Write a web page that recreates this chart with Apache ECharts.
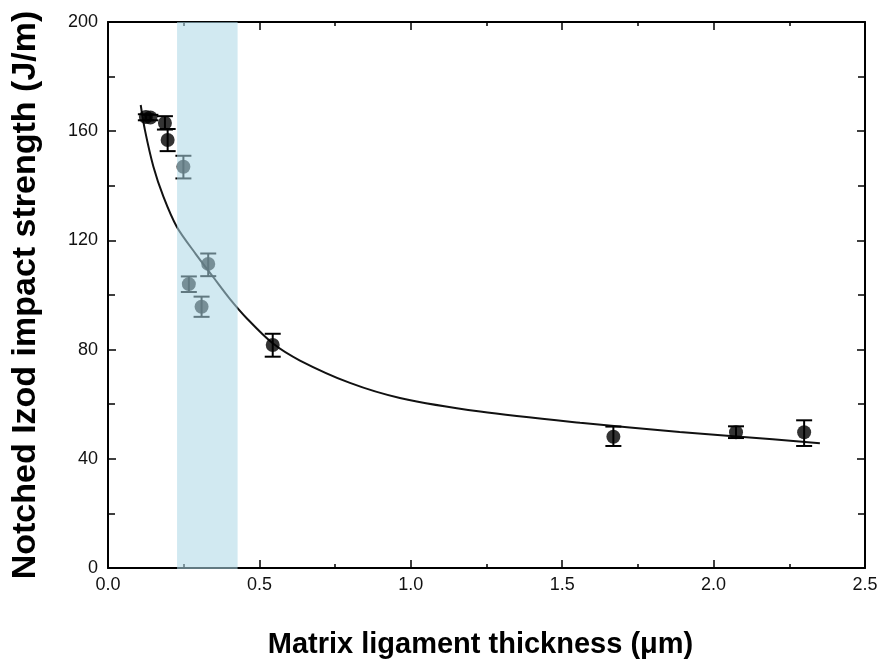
<!DOCTYPE html>
<html>
<head>
<meta charset="utf-8">
<script src="https://cdn.jsdelivr.net/npm/echarts@6/dist/echarts.min.js"></script>
<style>html,body{margin:0;padding:0;background:#fff}#c{width:883px;height:667px}</style>
</head>
<body>
<div id="c"></div>
<script>
// Data
const pointX   = [0.125, 0.14, 0.188, 0.197, 0.249, 0.267, 0.309, 0.331, 0.544, 1.669, 2.074, 2.299];
const pointY   = [165.2, 165.0, 163.0, 156.8, 147.0, 104.0, 95.7, 111.4, 81.7, 48.1, 49.7, 49.7];
const errLow   = [164.0, 164.0, 160.6, 152.7, 142.7, 101.1, 92.0, 106.9, 77.4, 44.7, 47.6, 44.7];
const errHigh  = [166.2, 166.0, 165.5, 160.8, 151.0, 106.8, 99.4, 115.2, 85.8, 51.8, 51.9, 54.1];
const curveX   = [0.108, 0.122, 0.150, 0.183, 0.227, 0.290, 0.348, 0.403, 0.458, 0.544, 0.634, 0.799, 0.964, 1.229, 1.559, 1.888, 2.076, 2.351];
const curveY   = [169.6, 160.4, 147.0, 136.0, 125.0, 115.0, 106.5, 98.5, 91.5, 82.3, 76.0, 67.8, 62.3, 57.3, 53.2, 49.8, 48.2, 45.7];
const bandX    = [0.228, 0.428];
const xTicks   = [0.0, 0.5, 1.0, 1.5, 2.0, 2.5];
const yTicks   = [0, 40, 80, 120, 160, 200];

const FONT = '"Liberation Sans", Arial, sans-serif';
const chart = echarts.init(document.getElementById('c'));

const axisCommon = {
  type: 'value',
  axisLine: { show: true, onZero: false, lineStyle: { color: '#000', width: 2 } },
  splitLine: { show: false },
  axisTick: { show: true, inside: true, length: 8, lineStyle: { color: '#000', width: 1.5 } },
  minorTick: { show: true, splitNumber: 2, length: 4, lineStyle: { color: '#000', width: 1.5 } }
};

chart.setOption({
  animation: false,
  backgroundColor: '#fff',
  grid: { left: 108, right: 18, top: 22, bottom: 99, containLabel: false, outerBoundsMode: 'none' },
  xAxis: [
    Object.assign({}, axisCommon, {
      position: 'bottom', min: xTicks[0], max: xTicks[xTicks.length - 1], interval: 0.5,
      name: 'Matrix ligament thickness (\u03bcm)', nameLocation: 'middle', nameGap: 62,
      nameTextStyle: { fontFamily: FONT, fontWeight: 'bold', fontSize: 29, color: '#000', verticalAlign: 'top', padding: [0, 12, 0, 0] },
      axisLabel: { fontFamily: FONT, fontSize: 18, color: '#111', margin: 8,
        formatter: v => v.toFixed(1) }
    }),
    Object.assign({}, axisCommon, {
      position: 'top', min: xTicks[0], max: xTicks[xTicks.length - 1], interval: 0.5,
      axisLabel: { show: false }
    })
  ],
  yAxis: [
    Object.assign({}, axisCommon, {
      position: 'left', min: yTicks[0], max: yTicks[yTicks.length - 1], interval: 40,
      minorTick: { show: true, splitNumber: 2, length: 7, lineStyle: { color: '#000', width: 1.5 } },
      name: 'Notched Izod impact strength (J/m)', nameLocation: 'middle', nameGap: 65,
      nameTextStyle: { fontFamily: FONT, fontWeight: 'bold', fontSize: 34, color: '#000' },
      axisLabel: { fontFamily: FONT, fontSize: 18, color: '#111', margin: 10 }
    }),
    Object.assign({}, axisCommon, {
      position: 'right', min: yTicks[0], max: yTicks[yTicks.length - 1], interval: 40,
      minorTick: { show: true, splitNumber: 2, length: 7, lineStyle: { color: '#000', width: 1.5 } },
      axisLabel: { show: false }
    })
  ],
  series: [
    {
      type: 'line', smooth: 0.3, showSymbol: false, symbol: 'none',
      data: curveX.map((x, i) => [x, curveY[i]]),
      lineStyle: { color: '#111', width: 2 }, z: 2
    },
    {
      type: 'custom', z: 3,
      data: pointX.map((x, i) => [x, errLow[i], errHigh[i]]),
      renderItem: function (params, api) {
        const lo = api.coord([api.value(0), api.value(1)]);
        const hi = api.coord([api.value(0), api.value(2)]);
        const hw = 8;
        const st = { stroke: '#000', lineWidth: 2 };
        return { type: 'group', children: [
          { type: 'line', shape: { x1: lo[0], y1: lo[1], x2: hi[0], y2: hi[1] }, style: st },
          { type: 'line', shape: { x1: lo[0] - hw, y1: lo[1], x2: lo[0] + hw, y2: lo[1] }, style: st },
          { type: 'line', shape: { x1: hi[0] - hw, y1: hi[1], x2: hi[0] + hw, y2: hi[1] }, style: st }
        ]};
      }
    },
    {
      type: 'scatter', z: 4, symbol: 'circle', symbolSize: 14,
      data: pointX.map((x, i) => [x, pointY[i]]),
      itemStyle: { color: '#000' }
    },
    {
      type: 'custom', z: 10, silent: true,
      data: [[bandX[0], bandX[1]]],
      renderItem: function (params, api) {
        const a = api.coord([api.value(0), yTicks[yTicks.length - 1]]);
        const b = api.coord([api.value(1), yTicks[0]]);
        return { type: 'rect', shape: { x: a[0], y: a[1], width: b[0] - a[0], height: b[1] - a[1] + 1 },
          style: { fill: 'rgba(173,216,230,0.56)' } };
      }
    }
  ]
});
</script>
</body>
</html>
